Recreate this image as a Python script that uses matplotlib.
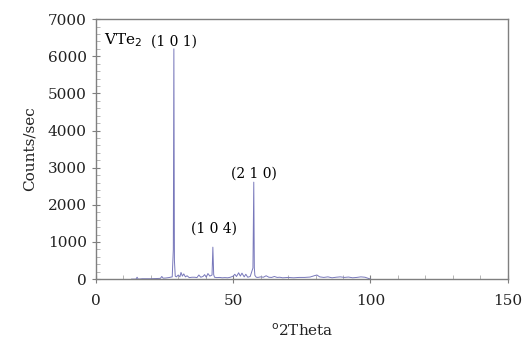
import matplotlib.pyplot as plt
from matplotlib.ticker import MultipleLocator

# XRD pattern of VTe2
two_theta = [13.0, 14.6, 15.0, 15.4, 17.0, 20.0, 22.0, 23.5, 24.0, 24.5, 25.5,
             26.5, 27.8, 28.2, 28.4, 28.6, 28.9, 29.3, 30.0, 30.6, 31.0, 31.5,
             32.0, 32.6, 33.2, 34.0, 35.0, 36.0, 36.8, 37.5, 38.2, 39.0, 39.6,
             40.2, 40.8, 41.5, 42.3, 42.6, 42.9, 43.2, 44.0, 45.0, 46.0, 47.0,
             48.0, 49.0, 50.0, 50.6, 51.2, 52.0, 52.6, 53.2, 54.0, 54.6, 55.3,
             56.2, 57.2, 57.5, 57.7, 57.9, 58.4, 59.0, 60.0, 61.0, 62.0, 63.0,
             64.0, 65.0, 66.0, 67.0, 68.0, 69.0, 70.0, 72.0, 74.0, 76.0, 78.0,
             79.5, 80.5, 81.5, 83.0, 84.5, 86.0, 87.5, 89.0, 90.5, 92.0, 93.5,
             95.0, 96.5, 98.0, 99.0, 100.0]
counts = [0, 0, 50, 0, 10, 10, 15, 20, 70, 25, 30,
          40, 60, 800, 6200, 500, 80, 60, 110, 60, 180, 80,
          140, 60, 90, 40, 50, 50, 40, 110, 50, 70, 120,
          50, 150, 80, 110, 860, 120, 50, 40, 45, 35, 40,
          35, 50, 80, 130, 70, 170, 80, 160, 60, 130, 50,
          70, 300, 2610, 300, 100, 50, 45, 60, 50, 90, 50,
          45, 70, 45, 50, 35, 40, 45, 35, 45, 45, 55,
          90, 110, 60, 45, 60, 35, 50, 60, 45, 55, 35,
          45, 60, 50, 25, 0]

peak_labels = ["(1 0 1)", "(1 0 4)", "(2 1 0)"]
label_x = [28.6, 43.0, 57.7]
label_y = [6380, 1370, 2850]

plt.rcParams['font.family'] = ['DejaVu Serif']
grey = '#7f7f7f'

fig = plt.figure(figsize=(5.24, 3.48), dpi=100)
ax = fig.add_axes([0.183, 0.198, 0.786, 0.747])

ax.plot(two_theta, counts, color='#7878bb', linewidth=0.7)

ax.set_xlim(0, 150)
ax.set_ylim(0, 7000)
ax.xaxis.set_major_locator(MultipleLocator(50))
ax.xaxis.set_minor_locator(MultipleLocator(10))
ax.yaxis.set_major_locator(MultipleLocator(1000))
ax.yaxis.set_minor_locator(MultipleLocator(200))

for s in ax.spines.values():
    s.set_color(grey)
    s.set_linewidth(1.0)
ax.tick_params(axis='both', which='major', direction='inout', length=6,
               color=grey, labelsize=11, labelcolor='#222222')
ax.tick_params(axis='both', which='minor', direction='in', length=3, color='#aaaaaa')
ax.tick_params(axis='x', pad=8)

ax.set_ylabel("Counts/sec", fontsize=11, color='#222222', labelpad=8)
ax.set_xlabel(r"$^{\rm o}$2Theta", fontsize=11, color='#222222', labelpad=10)

ax.text(3, 6435, r"VTe$_2$", fontsize=11, va='center', ha='left')
for lab, lx, ly in zip(peak_labels, label_x, label_y):
    ax.text(lx, ly, lab, fontsize=10, ha='center', va='center')

fig.savefig("out.png", dpi=100)
